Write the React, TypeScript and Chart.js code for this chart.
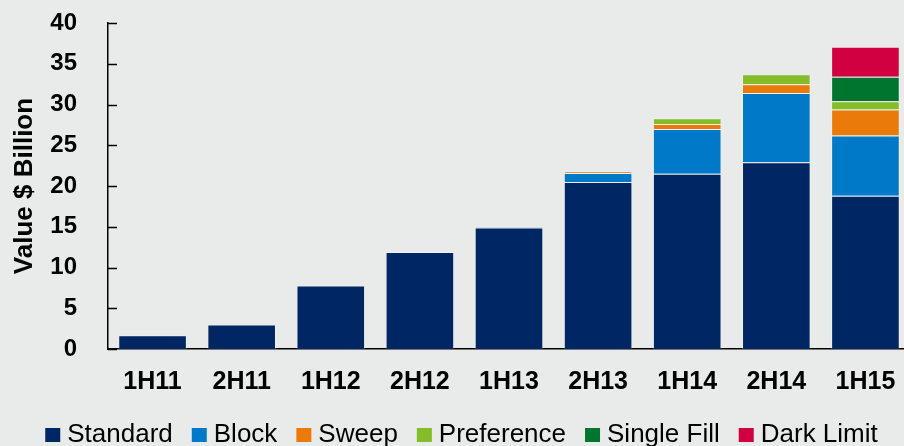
import React, { useEffect, useRef } from "react";
import { Chart, registerables } from "chart.js";

Chart.register(...registerables);

const categories = ["1H11", "2H11", "1H12", "2H12", "1H13", "2H13", "1H14", "2H14", "1H15"];
const standard = [1.7, 3.0, 7.8, 11.9, 14.9, 20.5, 21.5, 22.9, 18.8];
const block = [0, 0, 0, 0, 0.1, 1.1, 5.5, 8.5, 7.4];
const sweep = [0, 0, 0, 0, 0, 0.2, 0.6, 1.1, 3.2];
const preference = [0, 0, 0, 0, 0, 0, 0.7, 1.2, 1.0];
const singleFill = [0, 0, 0, 0, 0, 0, 0, 0, 3.0];
const darkLimit = [0, 0, 0, 0, 0, 0, 0, 0, 3.7];

const seriesNames = ["Standard", "Block", "Sweep", "Preference", "Single Fill", "Dark Limit"];
const seriesColors = ["#002664", "#0079C8", "#EA7B0B", "#84BD28", "#007530", "#D10040"];
const yTicks = [0, 5, 10, 15, 20, 25, 30, 35, 40];
const yTitle = "Value $ Billion";

const FONT = "'Liberation Sans', Arial, Helvetica, sans-serif";
const LEGEND_BOX_W = 15;
const LEGEND_BOX_H = 14;

// inward-pointing tick marks on the y axis, placed by the y scale
const innerTicks = {
  id: "innerTicks",
  afterDatasetsDraw(chart: any) {
    const y = chart.scales.y;
    const area = chart.chartArea;
    const ctx = chart.ctx;
    ctx.save();
    ctx.strokeStyle = "#000";
    ctx.lineWidth = 1.5;
    yTicks.forEach((v) => {
      const py = Math.round(y.getPixelForValue(v)) + 0.5;
      ctx.beginPath();
      ctx.moveTo(area.left, py);
      ctx.lineTo(area.left + 9, py);
      ctx.stroke();
    });
    ctx.restore();
  },
};

// draws the legend swatches at the legend's own hit boxes (tighter box-text gap)
const legendSwatches = {
  id: "legendSwatches",
  afterDraw(chart: any) {
    const lg = chart.legend;
    if (!lg || !lg.legendHitBoxes) return;
    const ctx = chart.ctx;
    ctx.save();
    lg.legendHitBoxes.forEach((hb: any, i: number) => {
      const item = lg.legendItems[i];
      ctx.fillStyle = seriesColors[item.datasetIndex];
      const top = hb.top + (hb.height - LEGEND_BOX_H) / 2;
      ctx.fillRect(hb.left - 2, top, LEGEND_BOX_W, LEGEND_BOX_H);
    });
    ctx.restore();
  },
};

export default function App() {
  const ref = useRef<HTMLCanvasElement | null>(null);
  useEffect(() => {
    if (!ref.current) return;
    const values = [standard, block, sweep, preference, singleFill, darkLimit];
    const chart = new Chart(ref.current, {
      type: "bar",
      data: {
        labels: categories,
        datasets: values.map((d, i) => ({
          label: seriesNames[i],
          data: d.map((v) => (v === 0 ? null : v)),
          backgroundColor: seriesColors[i],
          borderColor: "rgba(255,255,255,0.28)",
          borderWidth: 1,
          barPercentage: 1,
          categoryPercentage: 0.77,
        })),
      },
      options: {
        animation: false,
        responsive: true,
        maintainAspectRatio: false,
        layout: { padding: { top: 23, left: 0, right: 0, bottom: 0 } },
        plugins: {
          tooltip: { enabled: false },
          legend: {
            position: "bottom",
            labels: {
              boxWidth: 7,
              boxHeight: LEGEND_BOX_H,
              padding: 21,
              color: "#000",
              font: { family: FONT, size: 26 },
              generateLabels(c: any) {
                const items = Chart.defaults.plugins.legend.labels.generateLabels(c);
                return items.map((it: any) => ({
                  ...it,
                  fillStyle: "rgba(0,0,0,0)",
                  strokeStyle: "rgba(0,0,0,0)",
                  lineWidth: 0,
                }));
              },
            },
          },
        },
        scales: {
          x: {
            stacked: true,
            grid: { display: false },
            border: { display: true, color: "#000", width: 1.5 },
            ticks: {
              color: "#000",
              padding: 10,
              font: { family: FONT, size: 25, weight: "bold" },
              maxRotation: 0,
            },
            afterFit(scale: any) {
              scale.height = 52;
            },
          },
          y: {
            stacked: true,
            min: 0,
            max: 40,
            grid: { display: false },
            border: { display: true, color: "#000", width: 1.5 },
            ticks: {
              stepSize: 5,
              color: "#000",
              padding: 23,
              font: { family: FONT, size: 24, weight: "bold" },
            },
            title: {
              display: true,
              text: yTitle,
              color: "#000",
              padding: { top: 9, bottom: 0 },
              font: { family: FONT, size: 26, weight: "bold" },
            },
            afterFit(scale: any) {
              scale.width = 108;
              scale.paddingTop = 10;
              scale.paddingBottom = 10;
            },
          },
          yR: {
            position: "right",
            display: true,
            grid: { display: false },
            border: { display: false },
            ticks: { display: false },
            afterFit(scale: any) {
              scale.width = 15;
            },
          },
        },
      },
      plugins: [innerTicks, legendSwatches],
    });
    return () => chart.destroy();
  }, []);

  return (
    <div
      style={{
        position: "fixed",
        left: 0,
        top: 0,
        width: 904,
        height: 446,
        overflow: "hidden",
        background: "#E9EBEA",
      }}
    >
      <div style={{ position: "relative", width: 925, height: 458 }}>
        <canvas ref={ref} />
      </div>
    </div>
  );
}
